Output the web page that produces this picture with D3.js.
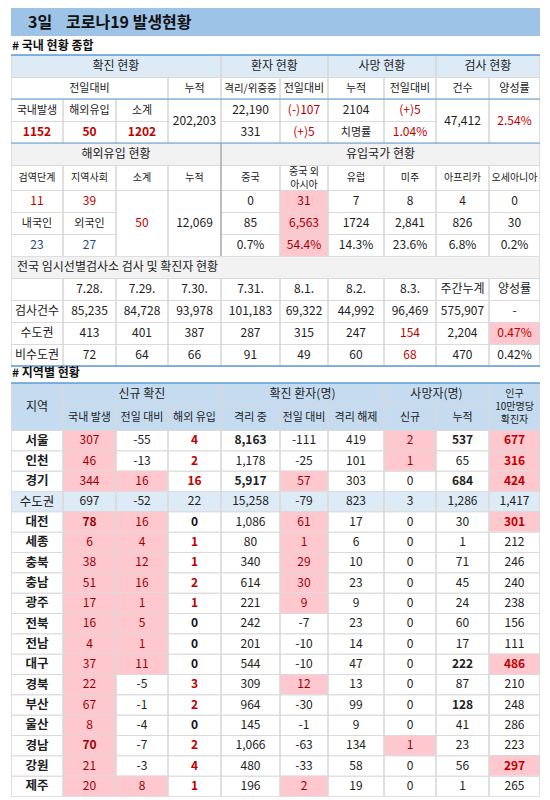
<!DOCTYPE html>
<html><head><meta charset="utf-8">
<script src="https://cdn.jsdelivr.net/npm/d3@7"></script>
<style>body{margin:0;background:#fff}text{font-family:"Noto Sans CJK KR",sans-serif}</style>
</head><body><svg id="c" width="550" height="800"></svg>
<script>
// ---- data ----
const titleDay = "3일", titleText = "코로나19 발생현황";
const summaryHead1 = ["확진 현황","환자 현황","사망 현황","검사 현황"];
const summaryHead2 = ["전일대비","누적","격리/위중증","전일대비","누적","전일대비","건수","양성률"];
const confirmedLabels = ["국내발생","해외유입","소계"];
const confirmedValues = ["1152","50","1202"];
const cumConfirmed = "202,203";
const patients = ["22,190","(-)107","331","(+)5"];
const deaths = ["2104","(+)5","치명률","1.04%"];
const tests = ["47,412","2.54%"];
const overseasHead = ["검역단계","지역사회","소계","누적"];
const overseasVals = [["11","39"],["내국인","외국인"],["23","27"]];
const overseasSub = "50", overseasCum = "12,069";
const countries = ["중국","중국 외|아시아","유럽","미주","아프리카","오세아니아"];
const countryToday = ["0","31","7","8","4","0"];
const countryCum = ["85","6,563","1724","2,841","826","30"];
const countryPct = ["0.7%","54.4%","14.3%","23.6%","6.8%","0.2%"];
const clinicDates = ["7.28.","7.29.","7.30.","7.31.","8.1.","8.2.","8.3.","주간누계","양성률"];
const clinicTests = ["85,235","84,728","93,978","101,183","69,322","44,992","96,469","575,907","-"];
const clinicMetro = ["413","401","387","287","315","247","154","2,204","0.47%"];
const clinicNonMetro = ["72","64","66","91","49","60","68","470","0.42%"];
const regionHead = ["국내 발생","전일 대비","해외 유입","격리 중","전일 대비","격리 해제","신규","누적"];
const regions = ["서울","인천","경기","수도권","대전","세종","충북","충남","광주","전북","전남","대구","경북","부산","울산","경남","강원","제주"];
const domestic = [307,46,344,697,78,6,38,51,17,16,4,37,22,67,8,70,21,20];
const domChange = [-55,-13,16,-52,16,4,12,16,1,5,1,11,-5,-1,-4,-7,-3,8];
const overseas = [4,2,16,22,0,1,1,2,1,0,0,0,3,2,0,2,4,1];
const isolated = [8163,1178,5917,15258,1086,80,340,614,221,242,201,544,309,964,145,1066,480,196];
const isoChange = [-111,-25,57,-79,61,1,29,30,9,-7,-10,-10,12,-30,-1,-63,-33,2];
const released = [419,101,303,823,17,6,10,23,9,23,14,47,13,99,9,134,58,19];
const deathNew = [2,1,0,3,0,0,0,0,0,0,0,0,0,0,0,1,0,0];
const deathCum = [537,65,684,1286,30,1,71,45,24,60,17,222,87,128,41,23,56,1];
const per100k = [677,316,424,1417,301,212,246,240,238,156,111,486,210,248,286,223,297,265];
const boldDomestic = ["대전","경남"];

// ---- layout ----
const svg = d3.select("#c");
const X = [11,63,116,168,221,280,328,384,436,489,540];
const PINK="#ffc7ce", DR="#9c0006", RED="#c00000", HB="#ddebf7", GRID="#d9d9d9", BLUE="#5b9bd5";
const fmt = d3.formatLocale({decimal:".",thousands:",",grouping:[3],currency:["",""],minus:"-"}).format(",");
function cell(x0,x1,y0,y1,t,o={}){
  if(o.bg) svg.append("rect").attr("x",x0).attr("y",y0).attr("width",x1-x0).attr("height",y1-y0).attr("fill",o.bg);
  svg.append("rect").attr("x",x0+0.5).attr("y",y0+0.5).attr("width",x1-x0-1).attr("height",y1-y0).attr("fill","none").attr("stroke",GRID).attr("stroke-width",0.8);
  if(t==null) return;
  const lines=String(t).split("|"); const fs=o.size||12; const lh=fs*(lines.length>1?1.3:1.15);
  const tx=svg.append("text").attr("text-anchor",o.left?"start":"middle")
    .attr("font-size",fs).attr("font-weight",o.bold?"bold":"normal").attr("fill",o.color||"#222");
  lines.forEach((l,i)=>tx.append("tspan").attr("x",o.left?x0+6:(x0+x1)/2)
    .attr("y",(y0+y1)/2+(i-(lines.length-1)/2)*lh+fs*0.36).text(l));
}
// title
svg.append("rect").attr("x",11).attr("y",8).attr("width",529).attr("height",28).attr("fill","#9dc3e6");
svg.append("text").attr("x",28).attr("y",28).attr("font-size",16).attr("font-weight","bold").attr("fill","#111").text(titleDay);
svg.append("text").attr("x",66).attr("y",28).attr("font-size",16).attr("font-weight","bold").attr("fill","#111").text(titleText);
svg.append("text").attr("x",12).attr("y",50).attr("font-size",12).attr("font-weight","bold").attr("fill","#111").text("# 국내 현황 종합");

// summary table
let y=[55,77,99,121,143];
const h1Spans=[[0,4],[4,6],[6,8],[8,10]];
h1Spans.forEach((s,i)=>cell(X[s[0]],X[s[1]],y[0],y[1],summaryHead1[i],{bg:HB,size:12}));
const h2Spans=[[0,3],[3,4],[4,5],[5,6],[6,7],[7,8],[8,9],[9,10]];
h2Spans.forEach((s,i)=>cell(X[s[0]],X[s[1]],y[1],y[2],summaryHead2[i],{size:i==2?10.5:11}));
confirmedLabels.forEach((t,i)=>cell(X[i],X[i+1],y[2],y[3],t,{size:11}));
confirmedValues.forEach((t,i)=>cell(X[i],X[i+1],y[3],y[4],t,{color:RED,bold:true}));
cell(X[3],X[4],y[2],y[4],cumConfirmed);
cell(X[4],X[5],y[2],y[3],patients[0]);cell(X[5],X[6],y[2],y[3],patients[1],{color:RED});
cell(X[4],X[5],y[3],y[4],patients[2]);cell(X[5],X[6],y[3],y[4],patients[3],{color:RED});
cell(X[6],X[7],y[2],y[3],deaths[0]);cell(X[7],X[8],y[2],y[3],deaths[1],{color:RED});
cell(X[6],X[7],y[3],y[4],deaths[2],{size:11});cell(X[7],X[8],y[3],y[4],deaths[3],{color:RED});
cell(X[8],X[9],y[2],y[4],tests[0]);cell(X[9],X[10],y[2],y[4],tests[1],{color:RED});

// overseas
y=[143,165,190,212,234,256];
cell(X[0],X[4],y[0],y[1],"해외유입 현황",{bg:"#f2f2f2"});
cell(X[4],X[10],y[0],y[1],"유입국가 현황",{bg:"#f2f2f2"});
overseasHead.forEach((t,i)=>cell(X[i],X[i+1],y[1],y[2],t,{size:10}));
countries.forEach((t,i)=>cell(X[i+4],X[i+5],y[1],y[2],t,{size:10}));
overseasVals.forEach((r,j)=>r.forEach((t,i)=>cell(X[i],X[i+1],y[j+2],y[j+3],t,
  {color:j==0?RED:(j==2?"#1f4e79":"#222"),size:j==1?11:12})));
cell(X[2],X[3],y[2],y[5],overseasSub,{color:RED});
cell(X[3],X[4],y[2],y[5],overseasCum);
[countryToday,countryCum,countryPct].forEach((arr,j)=>arr.forEach((t,i)=>
  cell(X[i+4],X[i+5],y[j+2],y[j+3],t,{bg:i==1?PINK:null,color:i==1?DR:"#222"})));

// clinic
y=[256,278,300,322,344,366];
cell(X[0],X[10],y[0],y[1],"전국 임시선별검사소 검사 및 확진자 현황",{bg:"#f2f2f2",left:true});
cell(X[0],X[1],y[1],y[2],"");
clinicDates.forEach((t,i)=>cell(X[i+1],X[i+2],y[1],y[2],t));
[["검사건수",clinicTests],["수도권",clinicMetro],["비수도권",clinicNonMetro]].forEach(([lab,arr],j)=>{
  cell(X[0],X[1],y[j+2],y[j+3],lab);
  arr.forEach((t,i)=>{const hl=(j==1&&i==8);
    cell(X[i+1],X[i+2],y[j+2],y[j+3],t,{bg:hl?PINK:null,color:hl?RED:((j>0&&i==6)?RED:"#222")});});
});
[[55,1.5],[99,1],[143,1],[366,1.5]].forEach(([yy,w])=>svg.append("line").attr("x1",11).attr("x2",540).attr("y1",yy).attr("y2",yy).attr("stroke",BLUE).attr("stroke-width",w));
svg.append("line").attr("x1",221).attr("x2",221).attr("y1",143).attr("y2",256).attr("stroke","#999");

// regional
svg.append("text").attr("x",12).attr("y",377).attr("font-size",12).attr("font-weight","bold").attr("fill","#111").text("# 지역별 현황");
const RB="#c5dcf0";
cell(X[0],X[1],383,430,"지역",{bg:RB});
[["신규 확진",1,4],["확진 환자(명)",4,7],["사망자(명)",7,9]].forEach(([t,a,b])=>cell(X[a],X[b],383,405,t,{bg:RB}));
regionHead.forEach((t,i)=>cell(X[i+1],X[i+2],405,430,t,{bg:RB,size:11}));
cell(X[9],X[10],383,430,"인구|10만명당|확진자",{bg:RB,size:10});
svg.append("line").attr("x1",11).attr("x2",540).attr("y1",383).attr("y2",383).attr("stroke",BLUE).attr("stroke-width",1.5);

const ry = d3.scaleBand().domain(regions).range([430,796]);
regions.forEach((r,k)=>{
  const y0=ry(r), y1=y0+ry.bandwidth(), m=r==="수도권";
  if(m) svg.append("rect").attr("x",11).attr("y",y0).attr("width",529).attr("height",y1-y0).attr("fill","#ddebf7");
  cell(X[0],X[1],y0,y1,r,{bold:!m,size:12.5});
  const vals=[domestic[k],domChange[k],overseas[k],isolated[k],isoChange[k],released[k],deathNew[k],deathCum[k],per100k[k]];
  vals.forEach((v,i)=>{
    let o={};
    if(!m){
      if(i==0) o={bg:PINK,color:DR,bold:boldDomestic.includes(r)};
      if((i==1||i==4||i==6)&&v>0) o={bg:PINK,color:DR};
      if(i==2) o={bold:true,color:v>0?RED:"#111"};
      if(i==3&&v>5000) o={bold:true};
      if(i==7&&v>100) o={bold:true};
      if(i==8&&v>290) o={bg:PINK,color:RED,bold:true};
    }
    cell(X[i+1],X[i+2],y0,y1,fmt(v),o);
  });
});
</script></body></html>
